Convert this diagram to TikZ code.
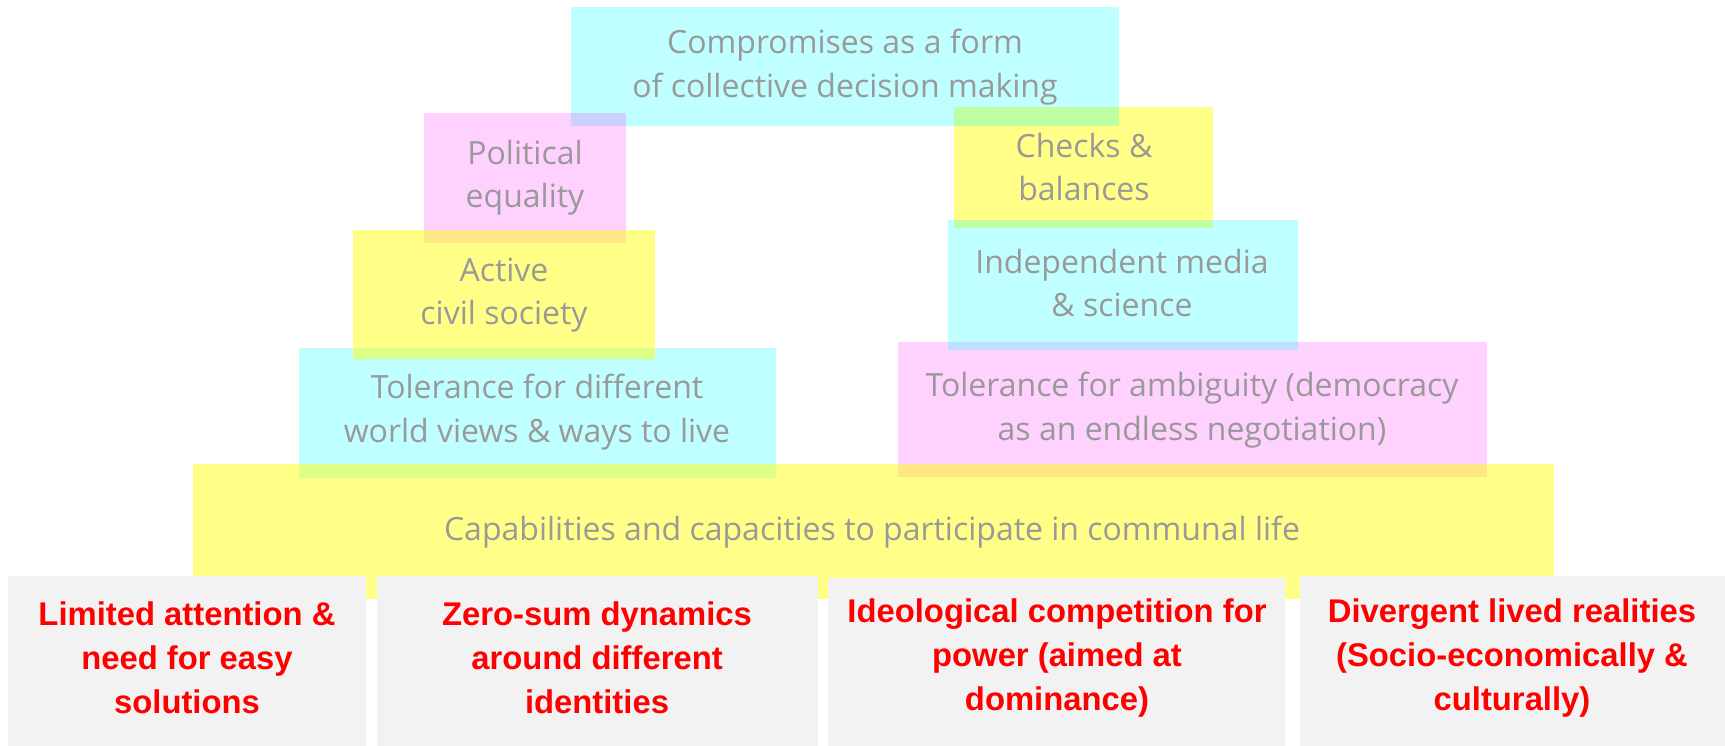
\documentclass[tikz,border=0pt]{standalone}
\usepackage{fontspec}
\setmainfont{Open Sans}
\newfontfamily\problemfont{Liberation Sans}

\begin{document}
\begin{tikzpicture}[x=0.75pt,y=0.75pt,yscale=-1,xscale=1,
    cyanbox/.style={fill={rgb, 255:red, 0; green, 255; blue, 255 }, fill opacity=0.25},
    yellowbox/.style={fill={rgb, 255:red, 255; green, 255; blue, 0 }, fill opacity=0.47},
    pinkbox/.style={fill={rgb, 255:red, 255; green, 0; blue, 255 }, fill opacity=0.18},
    greybox/.style={fill={rgb, 255:red, 242; green, 242; blue, 242 }},
    valuetext/.style={color={rgb, 255:red, 153; green, 153; blue, 153 }, inner sep=0, align=center, font=\fontsize{24}{32.5}\selectfont},
    problemtext/.style={color={rgb, 255:red, 255; green, 0; blue, 0 }, inner sep=0, align=center, font=\problemfont\bfseries\fontsize{24.6}{33}\selectfont}]
	\useasboundingbox (0,0) rectangle (1725,746);
	
	%the coloured sheets, later ones lie on top
	\fill [pinkbox] (898,342) rectangle (1487,477) ;
	\fill [yellowbox] (954,107) rectangle (1213,228) ;
	\fill [cyanbox] (948,220) rectangle (1298,350) ;
	\fill [cyanbox] (571,7) rectangle (1119,126) ;
	\fill [pinkbox] (424,113) rectangle (626,243) ;
	\fill [cyanbox] (299,348) rectangle (776,478) ;
	\fill [yellowbox] (353,230) rectangle (655,359) ;
	\fill [yellowbox] (193,464) rectangle (1554,599) ;
	
	%the grey sheets at the bottom
	\fill [greybox] (8,576) rectangle (366,746) ;
	\fill [greybox] (377,576) rectangle (818,746) ;
	\fill [greybox] (828,578) rectangle (1285,746) ;
	\fill [greybox] (1300,576) rectangle (1725,746) ;
	
	\node [valuetext] (compromise) at (845,67) {Compromises as a form\\of collective decision making};
	\node [valuetext] (equality) at (525,178) {Political\\equality};
	\node [valuetext] (civil) at (504,295) {Active\\civil society};
	\node [valuetext] (worldviews) at (537,412) {Tolerance for different\\world views \& ways to live};
	\node [valuetext] (checks) at (1084,167) {Checks \&\\balances};
	\node [valuetext] (media) at (1122,283) {Independent media\\\& science};
	\node [valuetext] (ambiguity) at (1192,410) {Tolerance for ambiguity (democracy\\as an endless negotiation)};
	\node [valuetext] (capabilities) at (872,532) {Capabilities and capacities to participate in communal life};
	
	\node [problemtext] (attention) at (187,658) {Limited attention \&\\need for easy\\solutions};
	\node [problemtext] (zerosum) at (597,658) {Zero-sum dynamics\\around different\\identities};
	\node [problemtext] (ideology) at (1057,658) {Ideological competition for\\power (aimed at\\dominance)};
	\node [problemtext] (realities) at (1512,658) {Divergent lived realities\\(Socio-economically \&\\culturally)};
	
\end{tikzpicture}
\end{document}
